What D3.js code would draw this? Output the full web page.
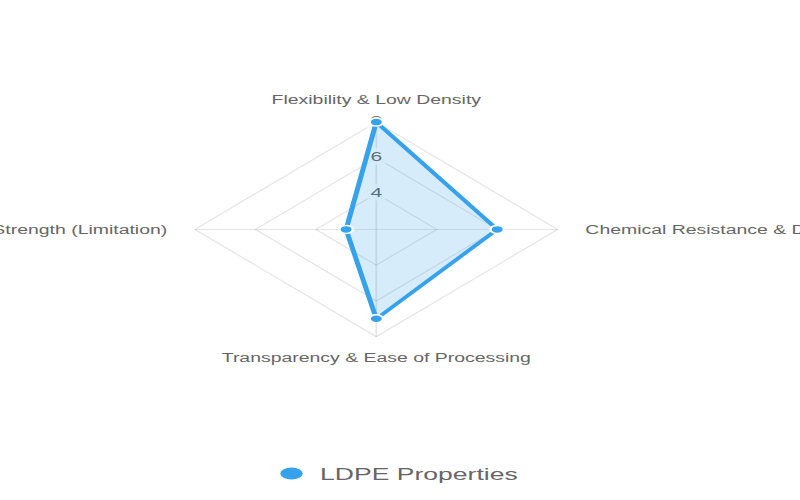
<!DOCTYPE html>
<html>
<head>
<meta charset="utf-8">
<script src="https://cdn.jsdelivr.net/npm/d3@7"></script>
<style>
  html, body { margin: 0; padding: 0; background: #fff; overflow: hidden; }
  svg { display: block; font-family: "Liberation Sans", Arial, Helvetica, sans-serif; }
</style>
</head>
<body>
<svg id="chart" width="800" height="500"></svg>
<script>
// ---- data ----
const categories = [
  "Flexibility & Low Density",
  "Chemical Resistance & Durability",
  "Transparency & Ease of Processing",
  "Tensile Strength (Limitation)"
];
const seriesName = "LDPE Properties";
const seriesValues = [8, 6, 7, 3];
const tickValues = [4, 6, 8];
const scaleMin = 2, scaleMax = 8;

// ---- layout ----
const W = 800, H = 500;
const cx = 376.3, cy = 229.4;
const R = 107.3;          // radius (vertical, unstretched)
const sx = 1.69;          // horizontal stretch of the picture
const tsx = 1.62;         // horizontal stretch of text
const blue = "#36A2EB";
const grey = "#666";
const gridColor = "rgba(0,0,0,0.1)";

const svg = d3.select("#chart");
svg.append("rect").attr("width", W).attr("height", H).attr("fill", "#fff");

const r = d3.scaleLinear().domain([scaleMin, scaleMax]).range([0, R]);
const n = categories.length;
const angle = d3.scaleLinear().domain([0, n]).range([0, 2 * Math.PI]);
const px = (i, v) => r(v) * Math.sin(angle(i));
const py = (i, v) => -r(v) * Math.cos(angle(i));

const stretch = `translate(${cx},${cy}) scale(${sx},1)`;
const gridG = svg.append("g").attr("transform", stretch);
const tickG = svg.append("g");
const dataG = svg.append("g").attr("transform", stretch);
const labelG = svg.append("g");

// grid rings
const ring = d3.line().x(d => d[0]).y(d => d[1]).curve(d3.curveLinearClosed);
gridG.selectAll("path.grid").data(tickValues).join("path")
  .attr("class", "grid")
  .attr("d", t => ring(d3.range(n).map(i => [px(i, t), py(i, t)])))
  .attr("fill", "none").attr("stroke", gridColor).attr("stroke-width", 1);

// spokes
gridG.selectAll("line.spoke").data(d3.range(n)).join("line")
  .attr("class", "spoke")
  .attr("x1", 0).attr("y1", 0)
  .attr("x2", i => px(i, scaleMax)).attr("y2", i => py(i, scaleMax))
  .attr("stroke", gridColor).attr("stroke-width", 1);

// tick labels (screen space, stretched text) with backdrop
tickValues.forEach(t => {
  const y = cy - r(t) - 1.5;
  const tg = tickG.append("g").attr("transform", `translate(${cx},${y}) scale(${tsx},1)`);
  const txt = tg.append("text").text(t)
    .attr("text-anchor", "middle").attr("dy", "0.36em")
    .attr("font-size", 13).attr("fill", grey);
  const bb = txt.node().getBBox();
  tg.insert("rect", "text")
    .attr("x", bb.x - 2).attr("y", -8.5)
    .attr("width", bb.width + 4).attr("height", 17)
    .attr("fill", "rgba(255,255,255,0.75)");
});

// dataset
const pts = seriesValues.map((v, i) => [px(i, v), py(i, v)]);
dataG.append("path")
  .attr("d", ring(pts))
  .attr("fill", "rgba(54,162,235,0.2)")
  .attr("stroke", blue).attr("stroke-width", 3)
  .attr("stroke-linejoin", "miter");

dataG.selectAll("circle.pt").data(pts).join("circle")
  .attr("class", "pt")
  .attr("cx", d => d[0]).attr("cy", d => d[1])
  .attr("r", 4)
  .attr("fill", blue).attr("stroke", "#fff").attr("stroke-width", 1.5);

// point labels
const labelPad = [18.5, 16.4, 16.2, 16.4];
categories.forEach((c, i) => {
  const a = angle(i);
  const rr = R + labelPad[i];
  const x = cx + sx * rr * Math.sin(a);
  const y = cy - rr * Math.cos(a);
  let anchor = "middle", dy = "0.36em";
  if (Math.abs(Math.sin(a)) > 0.5) anchor = Math.sin(a) > 0 ? "start" : "end";
  if (Math.cos(a) > 0.5) dy = "0em";          // top label sits above
  if (Math.cos(a) < -0.5) dy = "0.72em";      // bottom label hangs below
  labelG.append("g").attr("transform", `translate(${x},${y}) scale(${tsx},1)`)
    .append("text").text(c)
    .attr("text-anchor", anchor).attr("dy", dy)
    .attr("font-size", 12).attr("fill", grey);
});

// legend
const lg = svg.append("g");
lg.append("ellipse").attr("cx", 291.5).attr("cy", 473.5).attr("rx", 11.2).attr("ry", 6)
  .attr("fill", blue);
lg.append("g").attr("transform", `translate(320,479.5) scale(${tsx},1)`)
  .append("text").text(seriesName)
  .attr("font-size", 16.4).attr("fill", grey);
</script>
</body>
</html>
